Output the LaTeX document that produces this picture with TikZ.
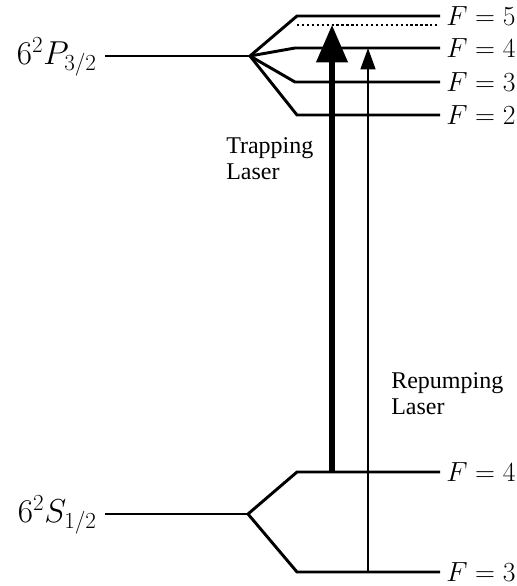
\documentclass[tikz,border=0pt]{standalone}
\usepackage{fontspec}
\newfontfamily\tfont{Liberation Serif}
\usetikzlibrary{arrows.meta}
\begin{document}
\begin{tikzpicture}[x=0.75pt,y=-0.75pt,
  level/.style={line width=2.2pt,line join=miter},
  flabel/.style={anchor=west,inner sep=0pt,font=\fontsize{21.5}{25}\selectfont},
  statelabel/.style={anchor=east,inner sep=0pt,font=\fontsize{24}{28}\selectfont},
  laserlabel/.style={anchor=north west,inner sep=0pt,align=left,font=\tfont\fontsize{18}{19.5}\selectfont},
  traparrow/.style={line width=3.8pt,-{Triangle[length=28pt,width=23pt]}},
  reparrow/.style={line width=1.9pt,-{Triangle[length=16pt,width=11pt]}}]
\useasboundingbox (0,0) rectangle (517,586);
% P3/2 manifold
\coordinate (Pstart) at (105,56);
\coordinate (Phub) at (250,56);
\coordinate (P5a) at (297,16);  \coordinate (P5) at (440,16);
\coordinate (P4a) at (295,48);  \coordinate (P4) at (440,48);
\coordinate (P3a) at (295,82);  \coordinate (P3) at (440,82);
\coordinate (P2a) at (297,115); \coordinate (P2) at (440,115);
\coordinate (Da) at (297,25);   \coordinate (Db) at (440,25);
\draw[level] (Pstart) -- (Phub);
\draw[level] (Phub) -- (P5a) -- (P5);
\draw[level] (Phub) -- (P4a) -- (P4);
\draw[level] (Phub) -- (P3a) -- (P3);
\draw[level] (Phub) -- (P2a) -- (P2);
\draw[line width=1.7pt,dotted] (Da) -- (Db);
% S1/2 manifold
\coordinate (Sstart) at (105,514);
\coordinate (Shub) at (248,514);
\coordinate (S4a) at (297,472); \coordinate (S4) at (440,472);
\coordinate (S3a) at (297,572); \coordinate (S3) at (440,572);
\draw[level] (Sstart) -- (Shub);
\draw[level] (Shub) -- (S4a) -- (S4);
\draw[level] (Shub) -- (S3a) -- (S3);
% labels
\node[statelabel] (lp) at (97,57) {$6^2P_{3/2}$};
\node[statelabel] (ls) at (97,515) {$6^2S_{1/2}$};
\node[flabel] (f5) at (446,16) {$F=5$};
\node[flabel] (f4) at (446,48) {$F=4$};
\node[flabel] (f3) at (446,82) {$F=3$};
\node[flabel] (f2) at (446,115) {$F=2$};
\node[flabel] (g4) at (446,472) {$F=4$};
\node[flabel] (g3) at (446,572) {$F=3$};
% lasers
\coordinate (Tb) at (332,472); \coordinate (Tt) at (332,25);
\coordinate (Rb) at (368,572); \coordinate (Rt) at (368,48);
\draw[traparrow] (Tb) -- (Tt);
\draw[reparrow] (Rb) -- (Rt);
\node[laserlabel] (trap) at (226,137) {Trapping\\Laser};
\node[laserlabel] (rep) at (391,372) {Repumping\\Laser};
\end{tikzpicture}
\end{document}
